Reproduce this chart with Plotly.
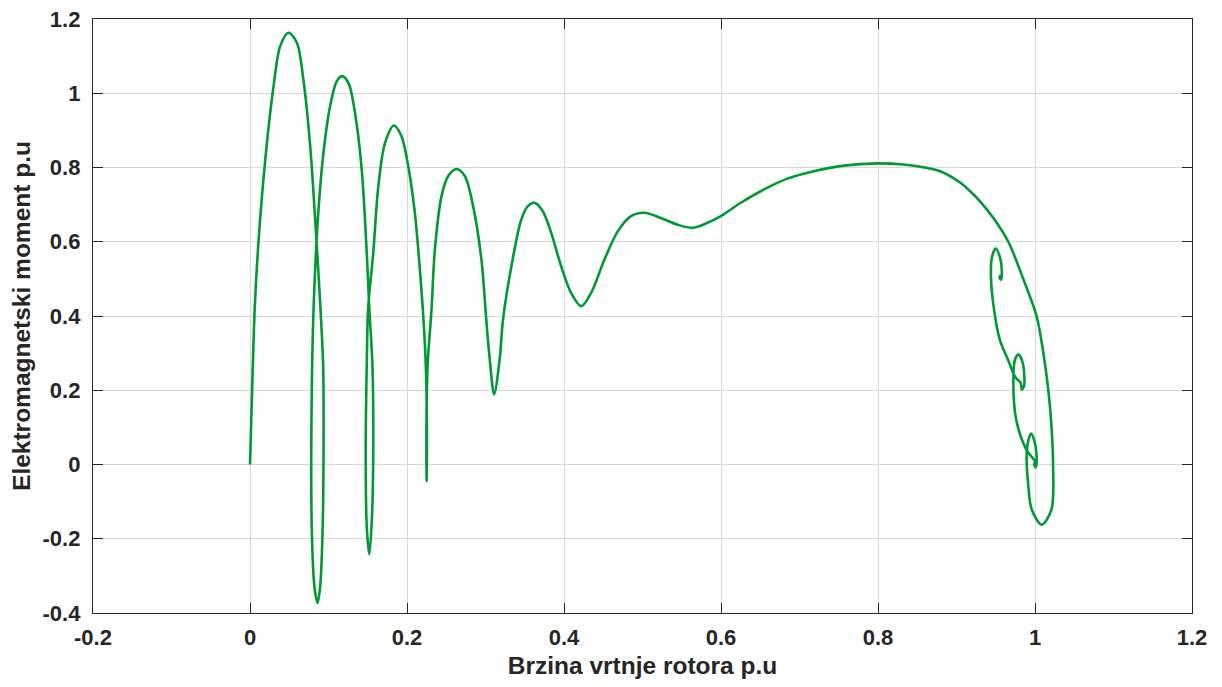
import plotly.graph_objects as go

# Rotor speed (p.u.) and electromagnetic torque (p.u.), in time order
speed = [
    0.0, 0.0035, 0.006, 0.011, 0.0195, 0.030, 0.0385, 0.049, 0.0597, 0.068, 0.0767, 0.083,
    0.0895, 0.0932, 0.0936, 0.0924, 0.0894, 0.086, 0.082, 0.0788, 0.078, 0.0788, 0.081,
    0.0864, 0.0936, 0.102, 0.1105, 0.117, 0.1254, 0.1338, 0.1423, 0.1487, 0.152, 0.156,
    0.157, 0.1554, 0.152, 0.1487, 0.1474, 0.1487, 0.1505, 0.157, 0.1635, 0.172, 0.1834,
    0.193, 0.2016, 0.210, 0.2164, 0.2207, 0.224, 0.2254, 0.225, 0.2247, 0.2262, 0.2313,
    0.2355, 0.244, 0.2525, 0.263, 0.2736, 0.2842, 0.2948, 0.301, 0.3054, 0.311, 0.318,
    0.3223, 0.333, 0.3456, 0.354, 0.3625, 0.373, 0.3837, 0.3964, 0.409, 0.4219, 0.4346,
    0.4515, 0.4685, 0.4854, 0.5023, 0.5235, 0.5447, 0.5638, 0.5828, 0.5997, 0.6252, 0.6548,
    0.6845, 0.7183, 0.7564, 0.7989, 0.8327, 0.854, 0.879, 0.905, 0.9174, 0.930, 0.947,
    0.966, 0.985, 1.002, 1.0106, 1.017, 1.021, 1.023, 1.021, 1.0085, 0.9958, 0.9915,
    0.9894, 0.9915, 0.9949, 0.999, 1.002, 1.001, 0.999, 1.0, 0.989, 0.976, 0.9725, 0.9746,
    0.979, 0.9843, 0.986, 0.983, 0.9818, 0.975, 0.966, 0.955, 0.947, 0.944, 0.945, 0.950,
    0.9555, 0.9577, 0.9568, 0.955, 0.956,
]
torque = [
    0.0, 0.26, 0.42, 0.606, 0.822, 1.019, 1.127, 1.163, 1.136, 1.037, 0.857, 0.66,
    0.43, 0.265, 0.0, -0.184, -0.328, -0.373, -0.328, -0.184, 0.0, 0.22, 0.42,
    0.66, 0.84, 0.965, 1.032, 1.046, 1.028, 0.947, 0.795, 0.57, 0.42, 0.265,
    0.04, -0.139, -0.242, -0.166, 0.04, 0.265, 0.42, 0.57, 0.75, 0.866, 0.913,
    0.884, 0.803, 0.678, 0.525, 0.40, 0.265, 0.085, -0.045, 0.085, 0.265, 0.42,
    0.579, 0.723, 0.777, 0.796, 0.777, 0.696, 0.552, 0.39, 0.283, 0.189, 0.283,
    0.39, 0.534, 0.66, 0.696, 0.705, 0.682, 0.624, 0.534, 0.4625, 0.4265, 0.4625,
    0.552, 0.628, 0.669, 0.678, 0.664, 0.646, 0.6375, 0.651, 0.669, 0.705, 0.741,
    0.770, 0.79, 0.805, 0.811, 0.808, 0.802, 0.79, 0.759, 0.736, 0.709, 0.664,
    0.6, 0.5, 0.4, 0.301, 0.2, 0.103, 0.0, -0.121, -0.162, -0.121, -0.058,
    0.031, 0.065, 0.0835, 0.065, 0.025, -0.008, 0.0, 0.008, 0.04, 0.121, 0.238, 0.283,
    0.296, 0.274, 0.211, 0.202, 0.22, 0.235, 0.28, 0.337, 0.43, 0.50, 0.557, 0.582,
    0.557, 0.521, 0.498, 0.503, 0.51,
]

x_ticks = [-0.2, 0, 0.2, 0.4, 0.6, 0.8, 1, 1.2]
x_tick_labels = ["-0.2", "0", "0.2", "0.4", "0.6", "0.8", "1", "1.2"]
y_ticks = [-0.4, -0.2, 0, 0.2, 0.4, 0.6, 0.8, 1, 1.2]
y_tick_labels = ["-0.4", "-0.2", "0", "0.2", "0.4", "0.6", "0.8", "1", "1.2"]

FONT = "Liberation Sans, Arial, sans-serif"

fig = go.Figure()
fig.add_trace(go.Scatter(
    x=speed, y=torque, mode="lines",
    line=dict(color="#009933", width=2.6, shape="spline", smoothing=0.9),
    showlegend=False, hoverinfo="x+y",
))

axis_common = dict(
    showgrid=True, gridcolor="#d9d9d9", gridwidth=1,
    showline=True, linecolor="#262626", linewidth=1.3, mirror="ticks",
    ticks="inside", ticklen=10, tickwidth=1.3, tickcolor="#262626",
    zeroline=False, automargin=False, ticklabeloverflow="allow",
    tickfont=dict(family=FONT, size=22, color="#262626"),
)

fig.update_xaxes(
    range=[-0.2, 1.2], tickvals=x_ticks, ticktext=[f"<b>{t}</b>" for t in x_tick_labels],
    ticklabelstandoff=4,
    title=dict(text="<b>Brzina vrtnje rotora p.u</b>", standoff=9,
               font=dict(family=FONT, size=24.5, color="#262626")),
    **axis_common,
)
fig.update_yaxes(
    range=[-0.4, 1.2], tickvals=y_ticks, ticktext=[f"<b>{t}</b>" for t in y_tick_labels],
    ticklabelstandoff=7,
    title=dict(text="<b>Elektromagnetski moment p.u</b>", standoff=6,
               font=dict(family=FONT, size=24.5, color="#262626")),
    **axis_common,
)

fig.update_layout(
    width=1206, height=671,
    margin=dict(l=85, r=22, t=11, b=66),
    paper_bgcolor="white", plot_bgcolor="white",
)

fig.write_html("out.html")
